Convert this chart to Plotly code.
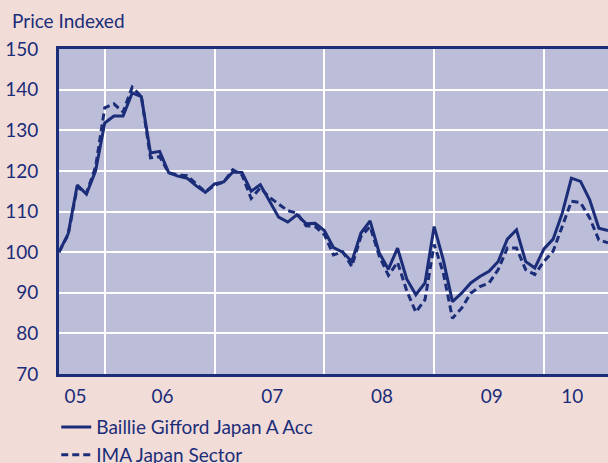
import plotly.graph_objects as go

# Month index since launch (Aug 2005 = 0)
months = list(range(61))

fund = [100, 104.5, 116.5, 114.3, 120, 131.8, 133.5, 133.5, 139.2, 138.3,
        124.4, 124.8, 119.5, 118.7, 118.2, 116.3, 114.7, 116.8, 117.3, 119.7,
        119.6, 115.0, 116.6, 112.5, 108.6, 107.4, 109.2, 107.0, 107.1, 105.3,
        101.1, 100.0, 97.7, 104.7, 107.7, 99.8, 95.8, 101.0, 93.4, 89.5,
        92.4, 106.3, 98.1, 87.8, 89.9, 92.4, 94.0, 95.3, 97.7, 103.2,
        105.5, 97.7, 96.1, 100.8, 103.2, 109.6, 118.2, 117.4, 112.9, 105.9,
        105.3]

sector = [100, 104.3, 116.0, 114.5, 121, 135.5, 136.5, 134.5, 140.6, 138.3,
          123.2, 123.5, 119.5, 119.0, 118.8, 116.8, 114.8, 116.5, 117.2, 120.3,
          119.0, 113.2, 115.8, 113.5, 111.8, 110.2, 109.6, 106.5, 106.3, 104.3,
          99.3, 100.1, 96.5, 103.9, 106.3, 99.0, 94.3, 97.5, 90.5, 85.2,
          88.3, 101.9, 94.9, 83.7, 86.2, 89.9, 91.5, 92.4, 95.7, 101.0,
          101.0, 95.7, 94.5, 97.7, 100.2, 106.3, 112.5, 112.2, 108.4, 103.0,
          102.3]

year_starts = [5, 17, 29, 41, 53]          # January of each year
year_label_pos = [1.8, 11.3, 23.3, 35.3, 47.3, 56.1]
year_labels = ["05", "06", "07", "08", "09", "10"]
y_ticks = [70, 80, 90, 100, 110, 120, 130, 140, 150]

navy = "#1b2d78"
pink = "#f2dcd8"
font_family = "Lato, 'Noto Sans', sans-serif"

fig = go.Figure()
fig.add_trace(go.Scatter(x=months, y=fund, mode="lines",
                         name="Baillie Gifford Japan A Acc",
                         line=dict(color=navy, width=3)))
fig.add_trace(go.Scatter(x=months, y=sector, mode="lines",
                         name="IMA Japan Sector",
                         line=dict(color=navy, width=3, dash="7px,4px")))

fig.update_layout(
    width=608, height=463,
    margin=dict(l=59, r=0, t=49, b=89, autoexpand=False),
    paper_bgcolor=pink,
    plot_bgcolor="#bbbdd9",
    font=dict(family=font_family, color=navy, size=19),
    showlegend=True,
    legend=dict(x=-0.005, y=-0.105, xanchor="left", yanchor="top",
                bgcolor="rgba(0,0,0,0)", font=dict(size=19, color=navy),
                tracegroupgap=0, itemwidth=30),
    xaxis=dict(range=[0, 60], tickvals=year_label_pos, ticktext=year_labels,
               showgrid=False, zeroline=False, ticks="", automargin=False,
               showline=True, linecolor=navy, linewidth=3, mirror=True,
               ticklabelstandoff=3,
               minor=dict(tickvals=year_starts, showgrid=True,
                          gridcolor="white", gridwidth=2, ticks="")),
    yaxis=dict(range=[70, 150], tickvals=y_ticks, showgrid=True,
               gridcolor="white", gridwidth=2, zeroline=False, ticks="",
               showline=True, linecolor=navy, linewidth=3, automargin=False,
               ticklabelstandoff=14),
    annotations=[dict(text="Price Indexed", xref="paper", yref="paper",
                      x=(10 - 59) / 549, y=(374 - 21) / 325,
                      xanchor="left", yanchor="middle", showarrow=False,
                      font=dict(size=19, color=navy))],
)

fig.write_html(
    "out.html",
    config={"displayModeBar": False},
    post_script="document.body.style.margin='0px';"
                "document.body.style.background='" + pink + "';",
)
